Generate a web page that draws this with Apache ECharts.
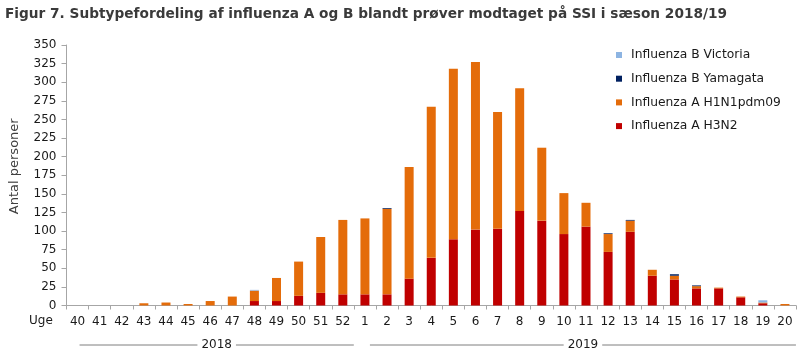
<!DOCTYPE html>
<html><head><meta charset="utf-8">
<script src="https://cdn.jsdelivr.net/npm/echarts@6/dist/echarts.min.js"></script>
<style>html,body{margin:0;padding:0;background:#fff}#c{width:800px;height:356px}</style>
</head><body><div id="c"></div>
<script>
const weeks = ['40','41','42','43','44','45','46','47','48','49','50','51','52','1','2','3','4','5','6','7','8','9','10','11','12','13','14','15','16','17','18','19','20'];
const h3n2 = [0,0,0,0,0,0,0,0,6,6,13,17,15,15,15,36,64,89,102,103,127,114,96,106,72,99,40,35,23,23,11,3,0];
const h1n1 = [0,0,0,3,4,2,6,12,14,31,46,75,100,102,115,150,203,229,225,157,165,98,55,32,24,15,8,5,3,1,1,1,2];
const yamagata = [0,0,0,0,0,0,0,0,0,0,0,0,0,0,1,0,0,0,0,0,0,0,0,0,1,1,0,2,1,0,0,0,0];
const victoria = [0,0,0,0,0,0,0,0,1,0,0,0,0,0,0,0,0,0,0,0,0,0,0,0,0,0,0,0,0,0,0,3,0];
const seriesNames = ['Influenza A H3N2','Influenza A H1N1pdm09','Influenza B Yamagata','Influenza B Victoria'];
const legendOrder = ['Influenza B Victoria','Influenza B Yamagata','Influenza A H1N1pdm09','Influenza A H3N2'];
const years = [{label:'2018', from:'40', to:'52'},{label:'2019', from:'1', to:'20'}];
const titleText = 'Figur 7. Subtypefordeling af influenza A og B blandt prøver modtaget på SSI i sæson 2018/19';

const colors = ['#C00000','#E46C0A','#002060','#8DB4E2'];
const FONT = 'DejaVu Sans';
const TXT = '#1a1a1a';
const chart = echarts.init(document.getElementById('c'), null, {renderer:'canvas'});
const dataSets = [h3n2, h1n1, yamagata, victoria];
chart.setOption({
  animation:false,
  title:{text:titleText,left:0,top:2,textStyle:{fontFamily:FONT,fontSize:13.7,fontWeight:'bold',color:'#3a3a3a'}},
  legend:{orient:'vertical',left:611,top:43,itemWidth:6,itemHeight:6,itemGap:9.7,icon:'rect',data:legendOrder,
    textStyle:{fontFamily:FONT,fontSize:12.3,lineHeight:14,color:TXT,padding:[0,0,0,4]}},
  grid:{left:61,right:4,top:45,bottom:50.5},
  xAxis:{type:'category',data:weeks,
    axisLine:{lineStyle:{color:'#A6A6A6',width:1}},
    axisTick:{show:true,length:4,lineStyle:{color:'#A6A6A6'}},
    axisLabel:{fontFamily:FONT,fontSize:12,color:TXT,margin:10,interval:0}},
  yAxis:{type:'value',min:0,max:350,interval:25,name:'Antal personer',nameLocation:'middle',nameGap:45.5,
    nameTextStyle:{fontFamily:FONT,fontSize:13,color:'#404040',padding:[0,0,0,18]},
    axisLine:{show:true,lineStyle:{color:'#A6A6A6'}},
    axisTick:{show:true,length:5,lineStyle:{color:'#A6A6A6'}},
    splitLine:{show:false},
    axisLabel:{fontFamily:FONT,fontSize:12,color:TXT,margin:10}},
  series: seriesNames.map((n,i)=>({name:n,type:'bar',stack:'all',data:dataSets[i],barWidth:9,itemStyle:{color:colors[i]}}))
});
const g = [{type:'text',left:29,top:315,style:{text:'Uge',font:'12px '+FONT,fill:TXT}}];
years.forEach((y,k)=>{
  const x1 = chart.convertToPixel({xAxisIndex:0}, y.from) + (k===0?2:5);
  const x2 = chart.convertToPixel({xAxisIndex:0}, y.to) + 11;
  const yy = 345;
  g.push({type:'line',shape:{x1:x1,y1:yy,x2:x2,y2:yy},style:{stroke:'#7F7F7F',lineWidth:1}});
  g.push({type:'text',x:(x1+x2)/2,y:yy,style:{text:y.label,font:'12px '+FONT,fill:TXT,align:'center',verticalAlign:'middle',backgroundColor:'#fff',padding:[0,4]}});
});
chart.setOption({graphic:g});
</script></body></html>
